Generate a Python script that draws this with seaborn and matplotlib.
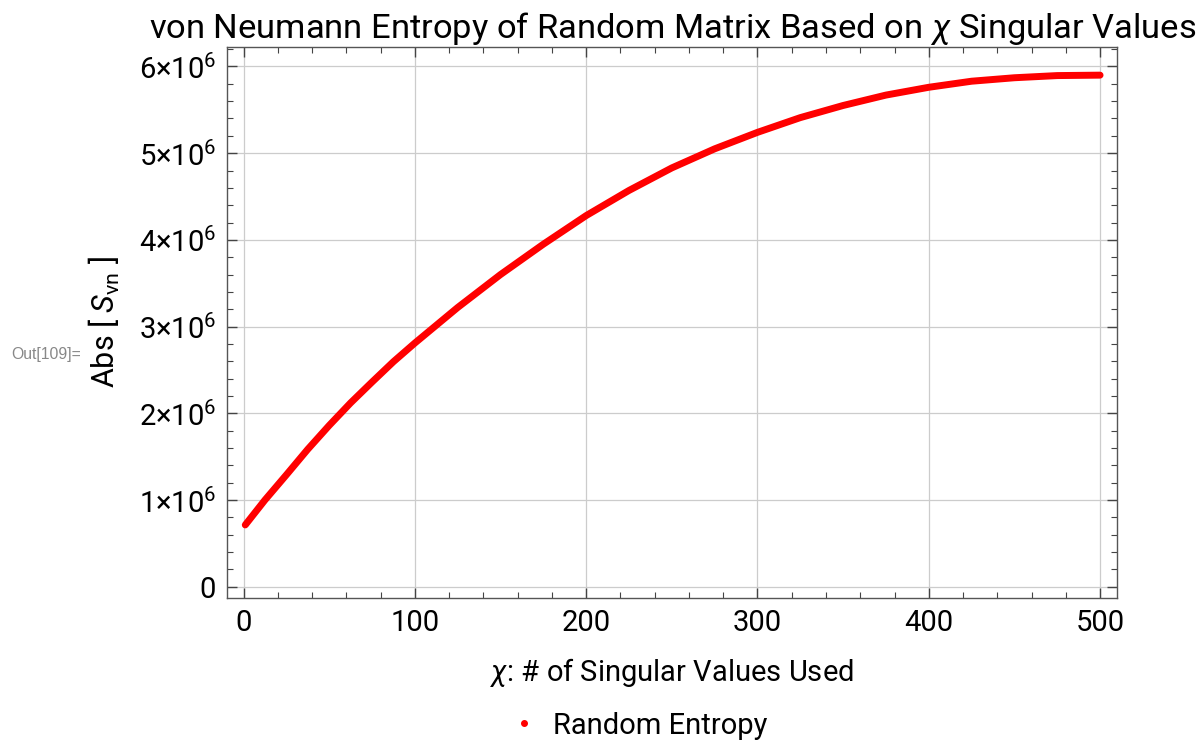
import numpy as np
import pandas as pd
import seaborn as sns
import matplotlib
matplotlib.use("Agg")
import matplotlib.pyplot as plt
from matplotlib.lines import Line2D
from matplotlib.ticker import MultipleLocator, FixedLocator

# ---- data ----
chi = [1, 12.5, 25, 37.5, 50, 62.5, 75, 87.5, 100, 125, 150, 175, 200, 225,
       250, 275, 300, 325, 350, 375, 400, 425, 450, 475, 500]
entropy_millions = [0.712, 1.00, 1.29, 1.585, 1.86, 2.12, 2.36, 2.595, 2.81,
                    3.22, 3.60, 3.95, 4.28, 4.57, 4.83, 5.05, 5.24, 5.41,
                    5.55, 5.67, 5.76, 5.83, 5.87, 5.895, 5.90]
x_ticks = [0, 100, 200, 300, 400, 500]
y_ticks = [0, 1, 2, 3, 4, 5, 6]
y_tick_labels = ["0"] + [f"{k}×10$^{{6}}$" for k in y_ticks[1:]]
series_name = "Random Entropy"

df = pd.DataFrame({"chi": chi, "S": [v * 1e6 for v in entropy_millions]})

sns.set_theme(style="ticks")
FONT = "Roboto"
plt.rcParams["font.family"] = [FONT, "DejaVu Sans"]
plt.rcParams["mathtext.fontset"] = "custom"
plt.rcParams["mathtext.rm"] = FONT
plt.rcParams["mathtext.it"] = FONT + ":italic"
plt.rcParams["mathtext.bf"] = FONT + ":bold"
plt.rcParams["mathtext.default"] = "regular"
plt.rcParams["text.color"] = "black"
plt.rcParams["axes.labelcolor"] = "black"

fig = plt.figure(figsize=(12, 7.42), dpi=100)
ax = fig.add_axes([0.1894, 0.1945, 0.931 - 0.1894, 0.9367 - 0.1945])

sns.lineplot(data=df, x="chi", y="S", color="#ff0000", linewidth=5.0,
             ax=ax, legend=False, zorder=3)
for ln in ax.lines:
    ln.set_solid_capstyle("round")
    ln.set_solid_joinstyle("round")

ax.set_xlim(-9.5, 510)
ax.set_ylim(-0.127e6, 6.225e6)

ax.xaxis.set_major_locator(FixedLocator(x_ticks))
ax.xaxis.set_minor_locator(MultipleLocator(20))
ax.yaxis.set_major_locator(FixedLocator([v * 1e6 for v in y_ticks]))
ax.yaxis.set_minor_locator(MultipleLocator(0.2e6))
ax.set_xticklabels([str(v) for v in x_ticks])
ax.set_yticklabels(y_tick_labels)

ax.tick_params(which="both", direction="in", top=True, right=True,
               colors="#444444", labelcolor="black", labelsize=21)
ax.tick_params(which="major", length=7, width=1, pad=8)
ax.tick_params(which="minor", length=4, width=0.8)

for sp in ax.spines.values():
    sp.set_color("#555555")
    sp.set_linewidth(1.0)

ax.grid(True, which="major", color="#cccccc", linewidth=0.9)
ax.set_axisbelow(True)

ax.set_xlabel(r"$\mathit{\chi}$: # of Singular Values Used", fontsize=21,
              labelpad=14)
ax.set_ylabel(r"Abs [ $\mathit{S}_{vn}$ ]", fontsize=22, labelpad=12)
ax.set_title(r"von Neumann Entropy of Random Matrix Based on $\mathit{\chi}$ Singular Values",
             fontsize=24.8, pad=5, color="black")

fig.text(0.009, 0.522, "Out[109]=", fontsize=11.3, color="#888888",
         ha="left", va="center", family="Liberation Sans")

handle = Line2D([], [], color="#ff0000", marker="o", markersize=4,
                linestyle="none")
fig.legend([handle], [series_name], loc="center", bbox_to_anchor=(0.532, 0.022),
           frameon=False, fontsize=21, handletextpad=0.5, handlelength=1.0)

fig.savefig("out.png", dpi=100)
